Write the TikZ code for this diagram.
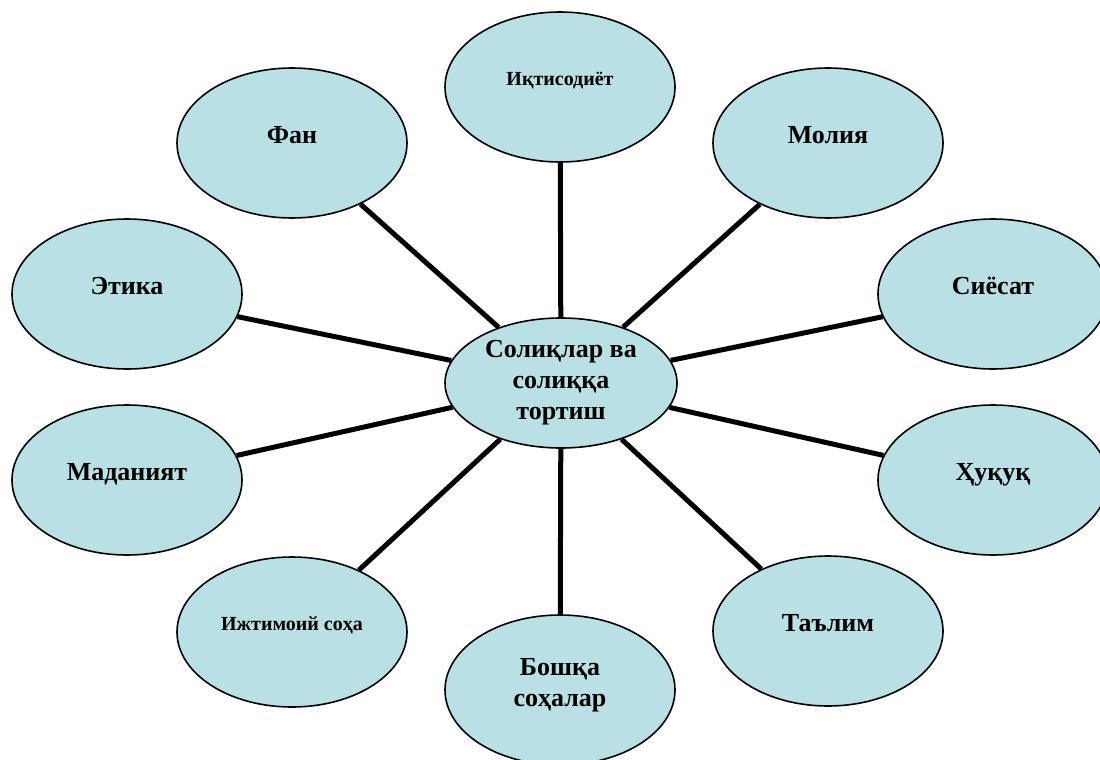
\documentclass[tikz,border=0pt]{standalone}
\usepackage{fontspec}
\setmainfont{Liberation Serif}
\definecolor{PaleTeal}{HTML}{B9E0E4}
\usetikzlibrary{shapes.geometric}

\begin{document}
\begin{tikzpicture}[x=1pt, y=-1pt,
    topic/.style={ellipse, draw=black, line width=1.6pt, fill=PaleTeal,
        minimum width=230pt, minimum height=150pt, inner sep=0pt,
        align=center, font=\fontsize{26}{31}\selectfont\bfseries, text depth=16pt},
    smalltopic/.style={topic, font=\fontsize{20}{24}\selectfont\bfseries},
    hub/.style={topic, minimum width=232pt, minimum height=130pt, text depth=},
    spoke/.style={line width=5pt, black}]
    \useasboundingbox (0,0) rectangle (1100,760);
    \clip (0,0) rectangle (1100,760);

    \node[hub] (soliq) at (561,383) {Солиқлар ва\\солиққа\\тортиш};

    \node[smalltopic] (iqtisod) at (560,87) {Иқтисодиёт};
    \node[topic] (fan) at (292,143) {Фан};
    \node[topic] (moliya) at (828,143) {Молия};
    \node[topic] (etika) at (127,294) {Этика};
    \node[topic] (siyosat) at (993,294) {Сиёсат};
    \node[topic] (madaniyat) at (127,480) {Маданият};
    \node[topic] (huquq) at (993,480) {Ҳуқуқ};
    \node[smalltopic] (ijtimoiy) at (292,632) {Ижтимоий соҳа};
    \node[topic] (talim) at (828,631) {Таълим};
    \node[topic] (boshqa) at (560,690) {Бошқа\\соҳалар};

    \foreach \n in {iqtisod, fan, moliya, etika, siyosat, madaniyat, huquq, ijtimoiy, talim, boshqa}
        \draw[spoke] (soliq) -- (\n);
\end{tikzpicture}
\end{document}
